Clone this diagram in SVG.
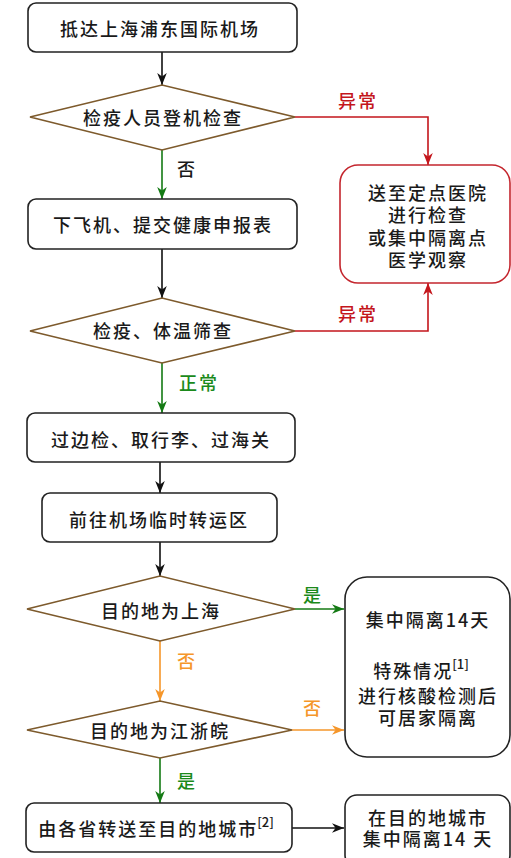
<svg xmlns="http://www.w3.org/2000/svg" width="511" height="858" viewBox="0 0 511 858">
<style>
  text { font-family: "Noto Sans CJK SC", "Noto Sans", sans-serif; font-size: 18px; font-weight: 500; letter-spacing: 2px; fill: #1a1a1a; text-anchor: middle; dominant-baseline: central; }
  .box { fill: #fff; stroke: #222; stroke-width: 1.6; }
  .redbox { fill: #fff; stroke: #c4262e; stroke-width: 1.6; }
  .dia { fill: #fff; stroke: #7d5a2c; stroke-width: 1.6; }
  .c { fill: none; stroke-width: 1.6; }
  .k { stroke: #111; }
  .r { stroke: #c4161c; }
  .g { stroke: #147a14; }
  .o { stroke: #f5962a; }
  .lr { fill: #c4161c; }
  .lg { fill: #1b8a1b; }
  .lo { fill: #f5962a; }
  .sup { font-size: 13px; letter-spacing: 0; }
</style>
<defs>
  <marker id="ak" viewBox="0 0 10 8" refX="10" refY="4" markerWidth="12" markerHeight="10" markerUnits="userSpaceOnUse" orient="auto"><path d="M0,0 L10,4 L0,8 L3,4 z" fill="#111"/></marker>
  <marker id="ar" viewBox="0 0 10 8" refX="10" refY="4" markerWidth="12" markerHeight="10" markerUnits="userSpaceOnUse" orient="auto"><path d="M0,0 L10,4 L0,8 L3,4 z" fill="#c4161c"/></marker>
  <marker id="ag" viewBox="0 0 10 8" refX="10" refY="4" markerWidth="12" markerHeight="10" markerUnits="userSpaceOnUse" orient="auto"><path d="M0,0 L10,4 L0,8 L3,4 z" fill="#147a14"/></marker>
  <marker id="ao" viewBox="0 0 10 8" refX="10" refY="4" markerWidth="12" markerHeight="10" markerUnits="userSpaceOnUse" orient="auto"><path d="M0,0 L10,4 L0,8 L3,4 z" fill="#f5962a"/></marker>
</defs>
<rect width="511" height="858" fill="#fff"/>

<g id="connectors">
  <path class="c k" d="M162,52 L162,85" marker-end="url(#ak)"/>
  <path class="c r" d="M295,117 L428,117 L428,165" marker-end="url(#ar)"/>
  <path class="c g" d="M162,150 L162,199" marker-end="url(#ag)"/>
  <path class="c k" d="M162,249 L162,298" marker-end="url(#ak)"/>
  <path class="c r" d="M295,331 L428,331 L428,283" marker-end="url(#ar)"/>
  <path class="c g" d="M162,363 L162,413" marker-end="url(#ag)"/>
  <path class="c k" d="M160,462 L160,493" marker-end="url(#ak)"/>
  <path class="c k" d="M160,542 L160,576" marker-end="url(#ak)"/>
  <path class="c g" d="M295,609 L344,609" marker-end="url(#ag)"/>
  <path class="c o" d="M160,641 L160,701" marker-end="url(#ao)"/>
  <path class="c o" d="M292,730 L344,730" marker-end="url(#ao)"/>
  <path class="c g" d="M160,758 L160,803" marker-end="url(#ag)"/>
  <path class="c k" d="M292,828 L344,828" marker-end="url(#ak)"/>
  <text class="lr" x="358" y="100">异常</text>
  <text x="187" y="168">否</text>
  <text class="lr" x="358" y="313">异常</text>
  <text class="lg" x="199" y="382">正常</text>
  <text class="lg" x="313" y="594">是</text>
  <text class="lo" x="187" y="660">否</text>
  <text class="lo" x="313" y="707">否</text>
  <text class="lg" x="187" y="780">是</text>
</g>

<g id="n1">
  <rect class="box" x="28" y="3" width="269" height="49" rx="8"/>
  <text x="160" y="28">抵达上海浦东国际机场</text>
</g>
<g id="n2">
  <polygon class="dia" points="30,117 162,85 295,117 162,150"/>
  <text x="163" y="117">检疫人员登机检查</text>
</g>
<g id="n3">
  <rect class="redbox" x="340" y="165" width="170" height="118" rx="18"/>
  <text x="428" y="192">送至定点医院</text>
  <text x="428" y="214">进行检查</text>
  <text x="428" y="237">或集中隔离点</text>
  <text x="428" y="259">医学观察</text>
</g>
<g id="n4">
  <rect class="box" x="28" y="199" width="269" height="50" rx="8"/>
  <text x="163" y="224">下飞机、提交健康申报表</text>
</g>
<g id="n5">
  <polygon class="dia" points="30,331 162,298 295,331 162,363"/>
  <text x="163" y="330">检疫、体温筛查</text>
</g>
<g id="n6">
  <rect class="box" x="27" y="413" width="268" height="49" rx="8"/>
  <text x="161" y="439">过边检、取行李、过海关</text>
</g>
<g id="n7">
  <rect class="box" x="42" y="493" width="235" height="49" rx="8"/>
  <text x="159" y="519">前往机场临时转运区</text>
</g>
<g id="n8">
  <polygon class="dia" points="27,609 160,576 295,609 160,641"/>
  <text x="161" y="610">目的地为上海</text>
</g>
<g id="n9">
  <rect class="box" x="345" y="577" width="165" height="180" rx="22"/>
  <text x="428" y="619">集中隔离14天</text>
  <text x="421" y="670">特殊情况<tspan class="sup" dx="-1" dy="-7">[1]</tspan></text>
  <text x="428" y="695">进行核酸检测后</text>
  <text x="428" y="717">可居家隔离</text>
</g>
<g id="n10">
  <polygon class="dia" points="27,730 160,701 292,730 160,758"/>
  <text x="160" y="730">目的地为江浙皖</text>
</g>
<g id="n11">
  <rect class="box" x="26" y="803" width="266" height="49" rx="8"/>
  <text x="156" y="828">由各省转送至目的地城市<tspan class="sup" dx="-1" dy="-7">[2]</tspan></text>
</g>
<g id="n12">
  <rect class="box" x="345" y="795" width="165" height="72" rx="12"/>
  <text x="428" y="817">在目的地城市</text>
  <text x="428" y="838">集中隔离14 天</text>
</g>
</svg>
